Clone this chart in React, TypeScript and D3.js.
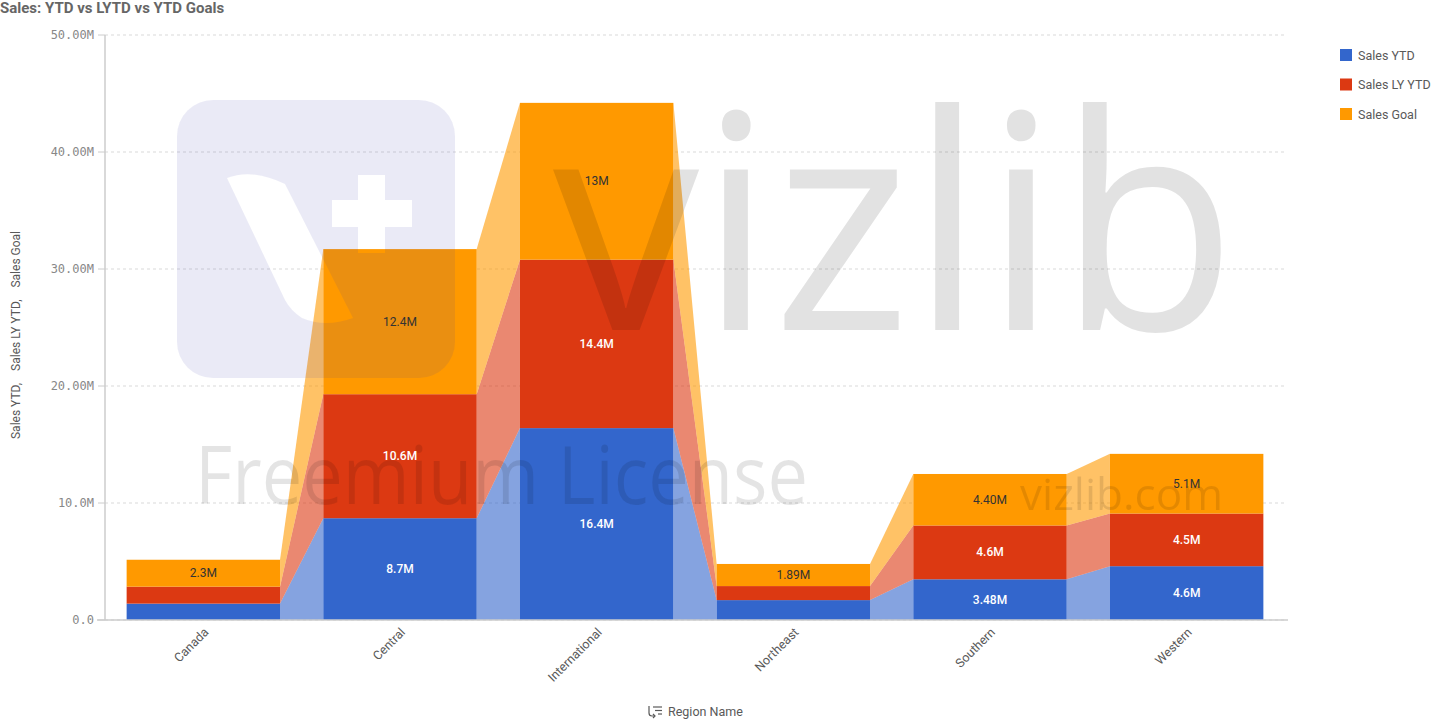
import * as d3 from "d3"

const regions = ["Canada", "Central", "International", "Northeast", "Southern", "Western"]
const salesYtd = [1.4, 8.7, 16.4, 1.7, 3.48, 4.6]
const salesLyYtd = [1.45, 10.6, 14.4, 1.2, 4.6, 4.5]
const salesGoal = [2.3, 12.4, 13.4, 1.89, 4.4, 5.1]
const ytdLabels = ["1.4M", "8.7M", "16.4M", "1.7M", "3.48M", "4.6M"]
const lyLabels = ["1.45M", "10.6M", "14.4M", "1.2M", "4.6M", "4.5M"]
const goalLabels = ["2.3M", "12.4M", "13M", "1.89M", "4.40M", "5.1M"]
const yTicks = [0, 10, 20, 30, 40, 50]
const yTickLabels = ["0.0", "10.0M", "20.00M", "30.00M", "40.00M", "50.00M"]

const seriesNames = ["Sales YTD", "Sales LY YTD", "Sales Goal"]
const seriesColors = ["#3366cc", "#dc3912", "#ff9900"]

const W = 1434
const H = 719

export default function App() {
  const x = d3.scaleBand<string>().domain(regions).range([105, 1285]).paddingInner(0.22).paddingOuter(0.11)
  const y = d3.scaleLinear().domain([0, 50]).range([620, 35])
  const bw = x.bandwidth()

  const series = [salesYtd, salesLyYtd, salesGoal]
  const labels = [ytdLabels, lyLabels, goalLabels]

  // stacked [lower, upper] for each series and region
  const stacks = series.map((_, s) =>
    regions.map((_, i) => {
      let lo = 0
      for (let k = 0; k < s; k++) lo += series[k][i]
      return [lo, lo + series[s][i]]
    })
  )

  const area = d3
    .area<{ x: number; y0: number; y1: number }>()
    .x((d) => d.x)
    .y0((d) => y(d.y0))
    .y1((d) => y(d.y1))

  const grey = "#595959"

  return (
    <svg width={W} height={H} style={{ position: "absolute", left: 0, top: 0, background: "#fff" }}>
      <defs>
        <mask id="logoMask">
          <rect x={0} y={0} width={W} height={H} fill="#fff" />
          <path d="M227,178 Q252,168 285,184 L353,318 Q325,328 302,318 Q291,311 285,300 Z" fill="#000" />
          <rect x={332} y={200} width={80} height={27} fill="#000" />
          <rect x={358} y={175} width={27} height={78} fill="#000" />
        </mask>
      </defs>

      <text x={0} y={13} fontFamily="Roboto, sans-serif" fontWeight={700} fontSize={15} fill="#666">
        Sales: YTD vs LYTD vs YTD Goals
      </text>

      {/* grid */}
      {yTicks.map((t) => (
        <line key={"g" + t} x1={105} x2={1285} y1={y(t)} y2={y(t)} stroke="#d9d9d9" strokeDasharray="3,3" />
      ))}

      {/* connectors between bars */}
      {series.map((_, s) =>
        regions.slice(0, -1).map((r, i) => {
          const x0 = (x(r) as number) + bw
          const x1 = x(regions[i + 1]) as number
          const pts = [
            { x: x0, y0: stacks[s][i][0], y1: stacks[s][i][1] },
            { x: x1, y0: stacks[s][i + 1][0], y1: stacks[s][i + 1][1] },
          ]
          return <path key={`c${s}-${i}`} d={area(pts) as string} fill={seriesColors[s]} opacity={0.6} />
        })
      )}

      {/* bars */}
      {series.map((_, s) =>
        regions.map((r, i) => (
          <rect
            key={`b${s}-${i}`}
            x={x(r)}
            y={y(stacks[s][i][1])}
            width={bw}
            height={y(stacks[s][i][0]) - y(stacks[s][i][1])}
            fill={seriesColors[s]}
          />
        ))
      )}

      {/* watermark */}
      <rect x={177} y={100} width={278} height={278} rx={36} fill="rgb(60,60,170)" opacity={0.1} mask="url(#logoMask)" />
      <text
        x={553}
        y={330}
        fontFamily="Open Sans, sans-serif"
        fontSize={300}
        fill="#000"
        opacity={0.11}
        textLength={684}
        lengthAdjust="spacingAndGlyphs"
      >
        vizlib
      </text>
      <text
        x={195}
        y={504}
        fontFamily="Open Sans, sans-serif"
        fontSize={80}
        fill="#000"
        opacity={0.1}
        textLength={613}
        lengthAdjust="spacingAndGlyphs"
      >
        Freemium License
      </text>
      <text
        x={1020}
        y={510}
        fontFamily="Open Sans, sans-serif"
        fontSize={44}
        fill="#000"
        opacity={0.1}
        textLength={203}
        lengthAdjust="spacingAndGlyphs"
      >
        vizlib.com
      </text>

      {/* value labels */}
      {series.map((_, s) =>
        regions.map((r, i) => {
          const top = y(stacks[s][i][1])
          const bottom = y(stacks[s][i][0])
          if (bottom - top < 22) return null
          return (
            <text
              key={`l${s}-${i}`}
              x={(x(r) as number) + bw / 2}
              y={(top + bottom) / 2}
              textAnchor="middle"
              dominantBaseline="central"
              fontFamily="Roboto, sans-serif"
              fontSize={12}
              fontWeight={s === 2 ? 400 : 500}
              fill={s === 2 ? "#333" : "#fff"}
            >
              {labels[s][i]}
            </text>
          )
        })
      )}

      {/* y axis */}
      <line x1={105} x2={105} y1={35} y2={620} stroke="#cccccc" strokeWidth={1.5} />
      {yTicks.map((t, i) => (
        <g key={"t" + t}>
          <line x1={98} x2={105} y1={y(t)} y2={y(t)} stroke="#cccccc" />
          <text
            x={94}
            y={y(t)}
            textAnchor="end"
            dominantBaseline="central"
            fontFamily="DejaVu Sans Mono, monospace"
            fontSize={12}
            fill="#888"
          >
            {yTickLabels[i]}
          </text>
        </g>
      ))}
      <text
        transform="translate(20,335) rotate(-90)"
        textAnchor="middle"
        fontFamily="Roboto, sans-serif"
        fontSize={12}
        fill={grey}
        style={{ whiteSpace: "pre" }}
      >
        {seriesNames.join(",    ")}
      </text>

      {/* x axis */}
      <line x1={97} x2={1288} y1={620} y2={620} stroke="#cccccc" strokeWidth={1.5} />
      {regions.map((r) => (
        <text
          key={"x" + r}
          transform={`translate(${(x(r) as number) + bw / 2 + 6},${633}) rotate(-45)`}
          textAnchor="end"
          fontFamily="Roboto, sans-serif"
          fontSize={12.5}
          fill={grey}
        >
          {r}
        </text>
      ))}
      <g stroke={grey} strokeWidth={1.2} fill="none">
        <path d="M649,706 L649,713 Q649,716 652,716 L655,716" />
        <path d="M653,714 L655,716 L653,718" />
        <line x1={653} x2={662} y1={707} y2={707} />
        <line x1={655} x2={662} y1={710.5} y2={710.5} />
        <line x1={658} x2={662} y1={714} y2={714} />
      </g>
      <text x={668} y={716} fontFamily="Roboto, sans-serif" fontSize={12.5} fill={grey}>
        Region Name
      </text>

      {/* legend */}
      {seriesNames.map((n, i) => (
        <g key={n} transform={`translate(1340,${49 + i * 29.5})`}>
          <rect width={12} height={12} fill={seriesColors[i]} />
          <text x={18} y={6} dominantBaseline="central" fontFamily="Roboto, sans-serif" fontSize={12.5} fill={grey}>
            {n}
          </text>
        </g>
      ))}
    </svg>
  )
}
